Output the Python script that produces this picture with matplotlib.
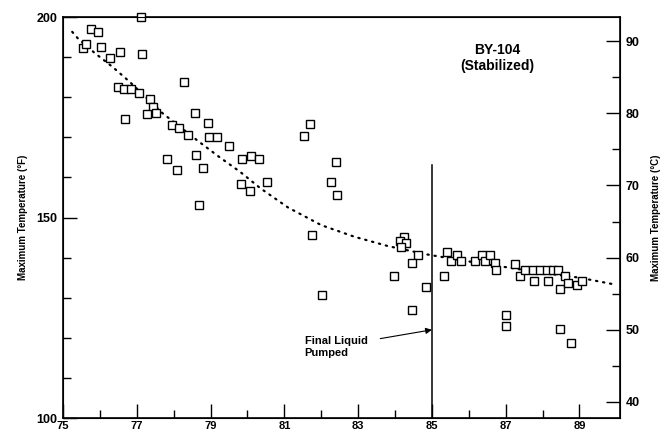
import numpy as np
import matplotlib
matplotlib.use("Agg")
import matplotlib.pyplot as plt
from matplotlib.ticker import MultipleLocator, FixedLocator

# measured points (year, max temperature in F)
years = [75.54, 75.63, 75.77, 75.95, 76.02, 76.27, 76.55, 77.15, 77.11, 78.28,
         76.49, 76.64, 76.85, 77.06, 77.35, 77.44, 77.28, 77.53, 78.57, 76.67,
         78.93, 77.96, 78.14, 78.39, 78.96, 79.17, 79.50, 77.82, 78.09, 78.61,
         78.79, 79.86, 80.09, 80.31, 79.82, 80.06, 80.52, 78.68, 81.69, 81.54,
         82.39, 82.26, 82.43, 81.76, 82.03, 84.24, 84.13, 84.31, 84.15, 84.63,
         84.45, 83.98, 84.84, 84.46, 85.40, 85.51, 85.69, 85.80, 85.33, 86.17,
         86.35, 86.44, 86.57, 86.71, 86.75, 87.02, 87.02, 87.25, 87.38, 87.52,
         87.75, 87.93, 88.11, 88.29, 88.42, 87.77, 88.15, 88.47, 88.62, 88.69,
         88.92, 89.06, 88.47, 88.77]
temps_f = [192.2, 193.3, 197.0, 196.3, 192.4, 189.7, 191.3, 190.8, 200.0, 183.9,
           182.5, 182.0, 182.0, 181.0, 179.5, 177.6, 175.8, 176.0, 176.0, 174.6,
           173.6, 173.1, 172.2, 170.6, 170.0, 170.0, 167.8, 164.5, 161.8, 165.6,
           162.4, 164.5, 165.4, 164.5, 158.4, 156.5, 158.9, 153.1, 173.3, 170.3,
           163.8, 158.9, 155.6, 145.6, 130.7, 145.2, 144.2, 143.7, 142.6, 140.6,
           138.7, 135.5, 132.7, 127.0, 141.3, 139.2, 140.6, 139.2, 135.5, 139.2,
           140.6, 139.2, 140.6, 138.7, 136.9, 125.8, 122.9, 138.3, 135.5, 136.9,
           136.9, 136.9, 136.9, 136.9, 136.9, 134.1, 134.1, 132.1, 135.5, 133.6,
           133.2, 134.1, 122.1, 118.6]

# dotted trend curve
trend_years = [75.25, 75.4, 75.85, 76.35, 76.8, 77.7, 78.7, 79.25, 79.8, 80.35,
               81.1, 82.0, 82.9, 83.8, 84.8, 85.5, 86.5, 87.1, 88.0, 89.0, 89.9]
trend_f = [196.3, 194.7, 191.1, 187.5, 183.9, 176.0, 168.8, 165.0, 161.4, 157.3,
           152.5, 148.1, 145.2, 142.9, 140.9, 139.8, 138.3, 137.5, 136.2, 135.0, 133.4]

xticks_major = [75, 77, 79, 81, 83, 85, 87, 89]
xticks_minor = [76, 78, 80, 82, 84, 86, 88]
pumped_year = 85
pumped_top = 163


def f_to_c(f):
    return (np.asarray(f) - 32.0) / 1.8


def main():
    plt.rcParams['font.family'] = ['Liberation Sans', 'DejaVu Sans']
    plt.rcParams['font.weight'] = 'bold'

    fig = plt.figure(figsize=(6.66, 4.33), dpi=100)
    ax = fig.add_axes([0.0946, 0.0346, 0.8364, 0.9261])

    ax.plot(trend_years, trend_f, color='k', lw=1.6, linestyle=(0, (0.6, 2.6)),
            dash_capstyle='round')
    ax.plot(years, temps_f, linestyle='none', marker='s', markersize=5.2,
            markerfacecolor='white', markeredgecolor='k', markeredgewidth=1.0,
            clip_on=False, zorder=3)

    # final liquid pumped marker
    ax.plot([pumped_year, pumped_year], [100, pumped_top], color='k', lw=1.1)
    ax.text(81.55, 117.6, "Final Liquid\nPumped", ha='left', va='center',
            fontsize=8, fontweight='bold', linespacing=1.25)
    ax.annotate('', xy=(85, 122), xytext=(83.6, 119.8),
                arrowprops=dict(arrowstyle='-|>', lw=0.8, color='k',
                                mutation_scale=9, shrinkA=0, shrinkB=0))

    ax.text(86.76, 189.8, "BY-104\n(Stabilized)", ha='center', va='center',
            fontsize=10, fontweight='bold', linespacing=1.2)

    ax.set_xlim(75, 90.1)
    ax.set_ylim(100, 200)
    ax.xaxis.set_major_locator(FixedLocator(xticks_major))
    ax.xaxis.set_minor_locator(FixedLocator(xticks_minor))
    ax.yaxis.set_major_locator(FixedLocator([100, 150, 200]))
    ax.yaxis.set_minor_locator(MultipleLocator(10))
    ax.tick_params(which='major', direction='in', length=10, width=1,
                   labelsize=9)
    ax.tick_params(which='minor', direction='in', length=6, width=1)
    ax.tick_params(axis='y', labelsize=9, pad=4)
    ax.tick_params(axis='x', labelsize=8, pad=2)
    ax.set_ylabel('Maximum Temperature (\u00b0F)', fontsize=7,
                  fontweight='bold', labelpad=6)
    for s in ax.spines.values():
        s.set_linewidth(1.2)

    # celsius axis on the right
    ax2 = ax.twinx()
    ax2.set_ylim(f_to_c(100), f_to_c(200))
    ax2.yaxis.set_major_locator(MultipleLocator(10))
    ax2.yaxis.set_minor_locator(MultipleLocator(5))
    ax2.tick_params(which='major', direction='in', length=10, width=1,
                    labelsize=9, pad=4)
    ax2.tick_params(which='minor', direction='in', length=6, width=1)
    ax2.set_ylabel('Maximum Temperature (\u00b0C)', fontsize=7,
                   fontweight='bold', labelpad=8)

    fig.savefig('out.png', dpi=100)


if __name__ == '__main__':
    main()
